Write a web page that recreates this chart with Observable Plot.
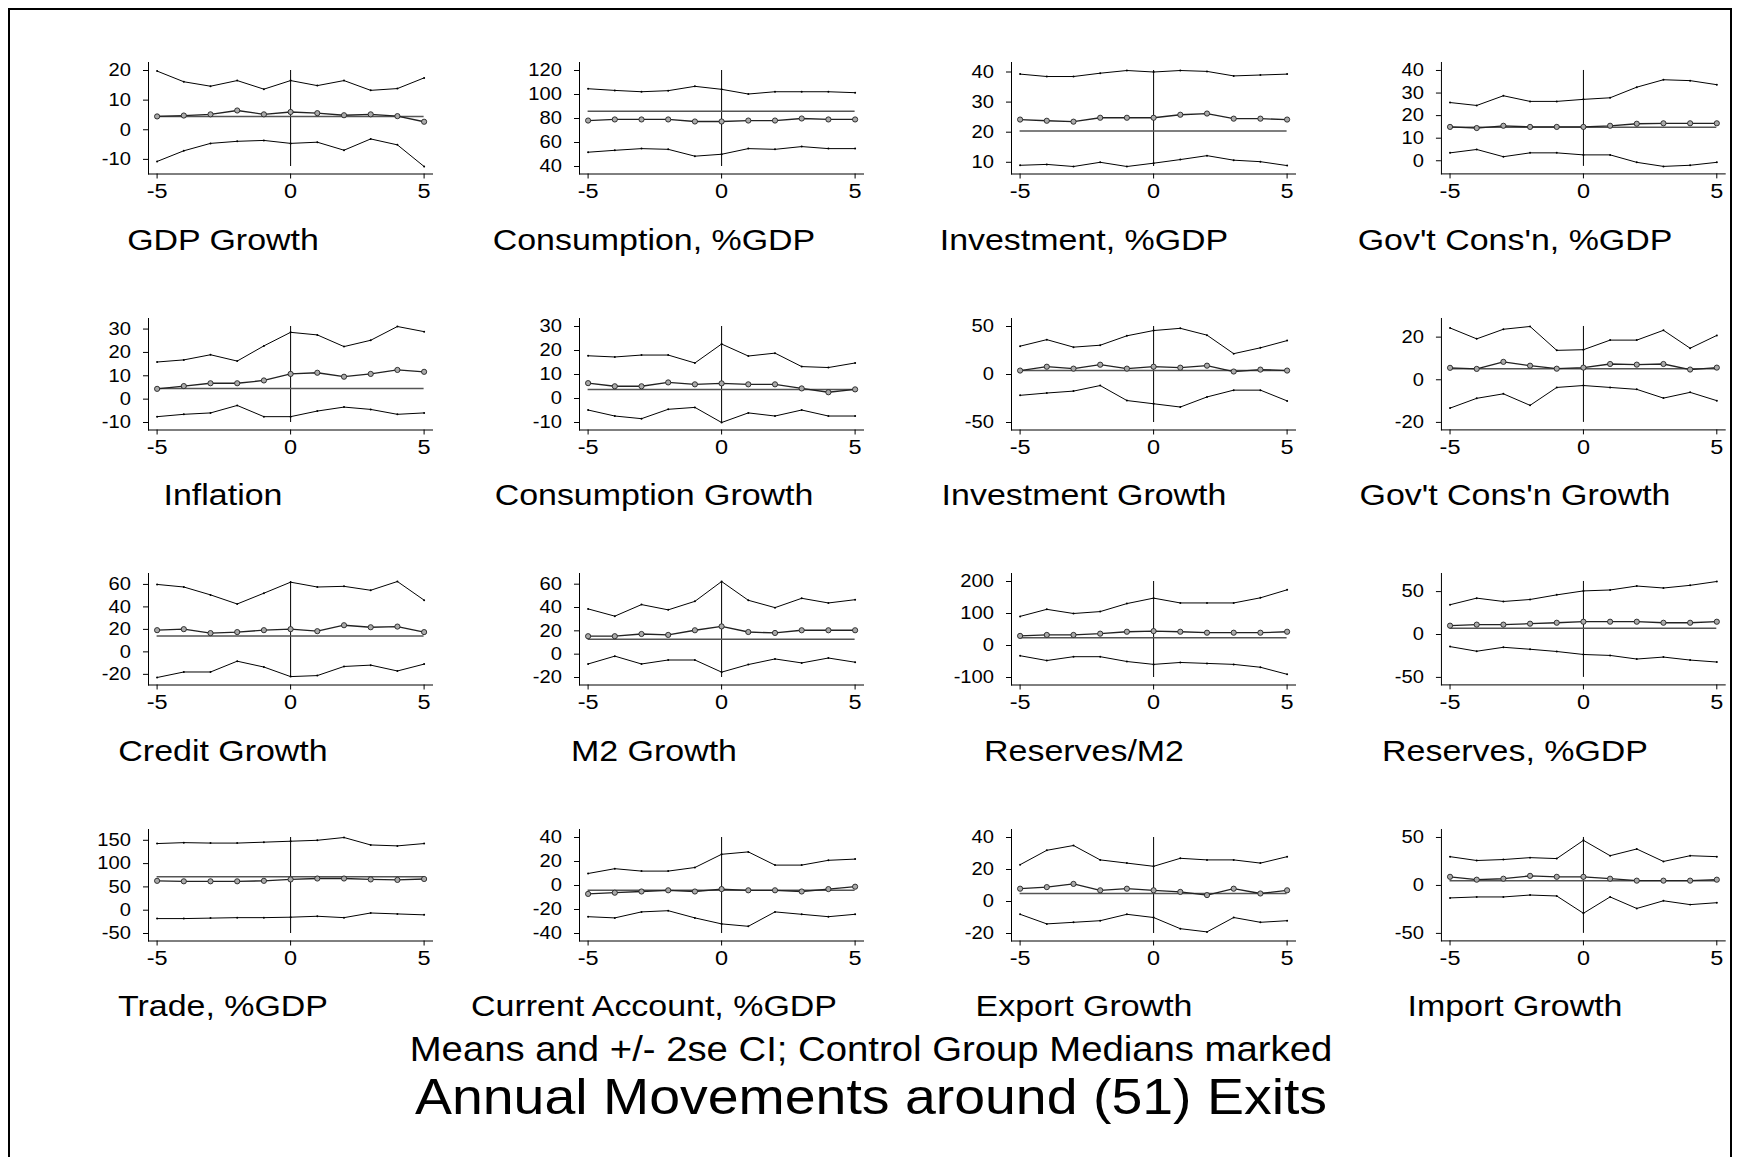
<!DOCTYPE html>
<html><head><meta charset="utf-8">
<script src="https://cdn.jsdelivr.net/npm/d3@7"></script>
<script src="https://cdn.jsdelivr.net/npm/@observablehq/plot@0.6"></script>
<style>
body{margin:0;background:#fff;}
#fig{position:relative;width:1737px;height:1157px;overflow:hidden;background:#fff;font-family:"Liberation Sans",Arial,sans-serif;}
#border{position:absolute;left:8px;top:8px;width:1720px;height:1300px;border:2px solid #000;}
.lbl{position:absolute;white-space:nowrap;line-height:1;color:#000;}
.panel{position:absolute;}
</style></head><body><div id="fig"><div id="border"></div></div>
<script>
const years = [-5,-4,-3,-2,-1,0,1,2,3,4,5];
const xTicks = [-5,0,5];
const titles = ["GDP Growth","Consumption, %GDP","Investment, %GDP","Gov't Cons'n, %GDP",
  "Inflation","Consumption Growth","Investment Growth","Gov't Cons'n Growth",
  "Credit Growth","M2 Growth","Reserves/M2","Reserves, %GDP",
  "Trade, %GDP","Current Account, %GDP","Export Growth","Import Growth"];
const yTicks = [
  [-10,0,10,20],[40,60,80,100,120],[10,20,30,40],[0,10,20,30,40],
  [-10,0,10,20,30],[-10,0,10,20,30],[-50,0,50],[-20,0,20],
  [-20,0,20,40,60],[-20,0,20,40,60],[-100,0,100,200],[-50,0,50],
  [-50,0,50,100,150],[-40,-20,0,20,40],[-20,0,20,40],[-50,0,50]];
const upperCI = [
  [19.8,16.2,14.7,16.6,13.7,16.6,14.9,16.6,13.3,13.9,17.5],
  [104.8,103.4,102.3,103.2,106.8,104.3,100.4,102.3,102.3,102.3,101.5],
  [39.3,38.5,38.5,39.6,40.5,40,40.5,40.2,38.7,39,39.3],
  [25.8,24.5,28.8,26.3,26.3,27.2,27.9,32.6,35.9,35.5,33.7],
  [15.9,16.8,19.0,16.3,22.8,28.6,27.5,22.5,25.2,31.1,28.9],
  [17.8,17.3,18.1,18.1,14.8,22.7,17.7,18.9,13.3,12.9,14.8],
  [29.5,36.3,28.5,30.5,40.3,45.8,48.1,41.0,21.7,27.8,35.3],
  [24.3,19.2,23.7,25.0,13.8,14.1,18.6,18.6,23.2,14.8,20.8],
  [60,57.7,50.7,42.6,52.2,62.0,57.7,58.3,54.8,62.6,46.0],
  [38.8,32.6,42.5,38.0,45.3,62.3,46.2,39.9,47.9,43.9,46.7],
  [91,113,100,106,131,148,133,133,133,149,174],
  [34.7,42.4,38.5,40.8,46.2,50.8,51.9,56.5,54.2,57.3,61.8],
  [143,145,144,144,146,148,150,156,140,138,143],
  [10,14,12,12,15,26,28,17,17,21,22],
  [23,32,35,26,24,22,27,26,26,24,28],
  [30,26,27,29,28,47,31,38,25,31,30]];
const means = [
  [4.5,4.8,5.2,6.5,5.2,6.0,5.6,4.9,5.2,4.6,2.7],
  [78.3,79.2,79.2,79.2,77.5,77.5,78.3,78.3,80,79.2,79.2],
  [24.2,23.8,23.5,24.8,24.8,24.8,25.8,26.2,24.5,24.5,24.2],
  [15.0,14.5,15.5,15.0,15.0,15.0,15.5,16.4,16.6,16.6,16.6],
  [4.4,5.6,6.8,6.8,8.0,10.8,11.3,9.6,10.8,12.5,11.7],
  [6.4,5.1,5.1,6.7,5.9,6.3,5.9,5.9,4.2,2.6,3.8],
  [4.1,8.1,6.1,10.2,6.1,8.1,7.1,9.2,3.1,5.1,4.1],
  [5.6,5.1,8.4,6.6,5.2,5.7,7.4,7.1,7.4,4.8,5.7],
  [19.3,20.2,16.7,17.6,19.3,20.2,18.4,23.7,21.9,22.5,17.6],
  [15.4,15.4,17.3,16.5,20.5,23.8,19.0,18.2,20.5,20.5,20.5],
  [30,33,33,37,43,45,43,40,40,40,43],
  [10.3,11.5,11.5,12.6,13.7,14.9,14.9,14.9,13.7,13.7,14.9],
  [63,62,62,62,63,66,68,68,66,65,67],
  [-7,-6,-5,-4,-5,-3,-4,-4,-5,-3,-1],
  [8,9,11,7,8,7,6,4,8,5,7],
  [9,6,7,10,9,9,7,5,5,5,6]];
const lowerCI = [
  [-10.7,-7.1,-4.6,-3.9,-3.6,-4.6,-4.2,-6.9,-3.1,-5.1,-12.4],
  [51.9,53.5,54.9,54.3,48.6,50.2,54.9,54.3,56.6,54.9,54.9],
  [9.0,9.3,8.6,10,8.6,9.7,10.9,12.2,10.7,10.2,8.9],
  [3.5,5.0,1.8,3.5,3.5,2.6,2.6,-0.7,-2.5,-2.0,-0.7],
  [-7.5,-6.5,-5.9,-2.7,-7.5,-7.5,-5.1,-3.4,-4.4,-6.5,-5.9],
  [-4.8,-7.3,-8.4,-4.5,-3.7,-10.0,-6.0,-7.3,-4.8,-7.3,-7.3],
  [-21.7,-19.3,-17.3,-11.5,-27.1,-30.5,-33.9,-23.4,-16.3,-16.3,-27.5],
  [-13.3,-8.7,-6.6,-12.0,-3.6,-2.7,-3.6,-4.5,-8.6,-5.9,-9.8],
  [-22.8,-17.9,-17.9,-8.3,-13.5,-22.0,-21.1,-13.0,-11.8,-17.0,-10.9],
  [-8.4,-1.7,-8.4,-5.0,-5.0,-15.4,-8.9,-4.1,-7.5,-3.3,-6.9],
  [-32,-47,-35,-35,-50,-59,-53,-56,-59,-68,-90],
  [-14.1,-19.5,-14.9,-17.2,-19.8,-23.3,-24.4,-28.6,-26.3,-29.8,-32.1],
  [-18,-18,-17,-16,-16,-15,-13,-16,-6,-8,-10],
  [-26,-27,-22,-21,-27,-32,-34,-22,-24,-26,-24],
  [-8,-14,-13,-12,-8,-10,-17,-19,-10,-13,-12],
  [-13,-12,-12,-10,-11,-29,-12,-24,-16,-20,-18]];
const medians = [4.5,86.1,20.4,14.9,4.6,3.7,4.1,5.2,14.1,12.8,24,7.3,72,-4,5,5];
const subtitle = "Means and +/- 2se CI; Control Group Medians marked";
const mainTitle = "Annual Movements around (51) Exits";

const FONT = '"Liberation Sans", Arial, sans-serif';
const S = 1.12;
const ML = 70, MR = 12, MT = 12, MB = 40, PW = 284, PH = 111.5;
const colX = [147.7, 579, 1010.7, 1441.3];
const rowY = [62, 318, 573.3, 829];
const fig = document.getElementById("fig");

function stretch(svg) {
  svg.querySelectorAll('g[aria-label$="tick label"] text').forEach(t => {
    const tr = t.getAttribute("transform");
    if (tr) t.setAttribute("transform", tr + ` scale(${S},1)`);
    else {
      const x = +t.getAttribute("x") || 0, y = +t.getAttribute("y") || 0;
      t.removeAttribute("x"); t.removeAttribute("y");
      t.setAttribute("transform", `translate(${x},${y}) scale(${S},1)`);
    }
  });
}
function addLabel(text, cx, cy, size) {
  const d = document.createElement("div");
  d.className = "lbl";
  d.textContent = text;
  d.style.left = cx + "px";
  d.style.top = cy + "px";
  d.style.fontSize = size + "px";
  d.style.transform = `translate(-50%,-50%) scaleX(${S})`;
  fig.appendChild(d);
}

titles.forEach((title, p) => {
  const r = Math.floor(p / 4), c = p % 4;
  const data = years.map((t, i) => ({t, hi: upperCI[p][i], m: means[p][i], lo: lowerCI[p][i]}));
  const ext = d3.extent([...upperCI[p], ...means[p], ...lowerCI[p], ...yTicks[p], medians[p]]);
  const svg = Plot.plot({
    width: ML + PW + MR, height: MT + PH + MB,
    marginLeft: ML, marginRight: MR, marginTop: MT, marginBottom: MB,
    style: {fontFamily: FONT, color: "#000", background: "transparent", overflow: "visible"},
    x: {domain: [-5, 5], insetLeft: 8.6, insetRight: 8.4},
    y: {domain: ext, insetTop: 8, insetBottom: 7.5},
    marks: [
      Plot.frame({anchor: "left", stroke: "#000"}),
      Plot.frame({anchor: "bottom", stroke: "#000"}),
      Plot.axisY(yTicks[p], {tickSize: 5, tickPadding: 12.5, fontSize: 18, tickFormat: d => String(d), label: null}),
      Plot.axisX(xTicks, {tickSize: 5, tickPadding: 4, fontSize: 21, tickFormat: d => String(d), label: null}),
      Plot.ruleX([0], {y1: ext[0], y2: ext[1], stroke: "#000", strokeWidth: 1}),
      Plot.ruleY([medians[p]], {x1: -5, x2: 5, stroke: "#555", strokeWidth: 1.5}),
      Plot.line(data, {x: "t", y: "hi", stroke: "#000", strokeWidth: 1}),
      Plot.dot(data, {x: "t", y: "hi", r: 1, fill: "#000", stroke: null}),
      Plot.line(data, {x: "t", y: "lo", stroke: "#000", strokeWidth: 1}),
      Plot.dot(data, {x: "t", y: "lo", r: 1, fill: "#000", stroke: null}),
      Plot.line(data, {x: "t", y: "m", stroke: "#222", strokeWidth: 1.3}),
      Plot.dot(data, {x: "t", y: "m", r: 2.6, fill: "#aaa", stroke: "#222", strokeWidth: 0.9})
    ]
  });
  stretch(svg);
  const wrap = document.createElement("div");
  wrap.className = "panel";
  wrap.style.left = (colX[c] - ML) + "px";
  wrap.style.top = (rowY[r] - MT) + "px";
  wrap.appendChild(svg);
  fig.appendChild(wrap);
  addLabel(title, 8 + 430.5 * (c + 0.5), 240 + 255.3 * r, 30.3);
});
addLabel(subtitle, 871, 1049, 34.2);
addLabel(mainTitle, 871, 1097, 49.5);
</script></body></html>
